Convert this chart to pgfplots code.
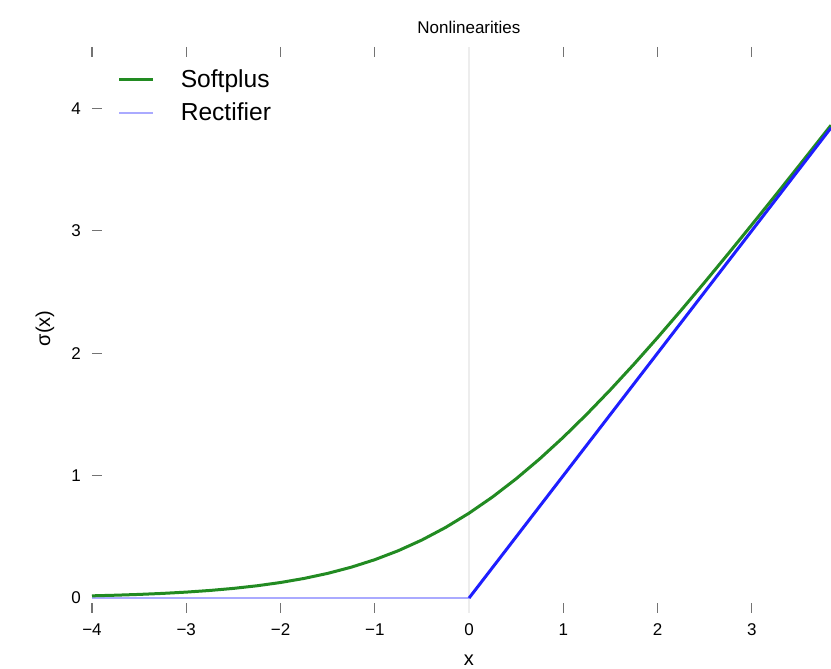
\documentclass[border=0pt]{standalone}
\usepackage{fontspec}
\setmainfont{Liberation Sans}
\usepackage{pgfplots}
\pgfplotsset{compat=1.18}
\definecolor{spgreen}{RGB}{34,139,34}
\definecolor{relublue}{RGB}{30,30,255}
\definecolor{relulight}{RGB}{170,170,255}
\begin{document}
\begin{tikzpicture}
\begin{axis}[name=ax, scale only axis, width=369.5pt, height=283pt,
  xmin=-4, xmax=3.84, ymin=-0.122, ymax=4.5,
  axis line style={draw=none},
  tick align=inside, major tick length=5pt,
  tick style={black!55, line width=0.6pt},
  xtick={-4,-3,-2,-1,1,2,3}, xticklabels={−4,−3,−2,−1,1,2,3},
  xtick pos=both, ytick pos=left,
  ytick={0,1,2,3,4},
  extra x ticks={0}, extra x tick labels={0},
  extra x tick style={major tick length=0pt, grid=major, major grid style={black!7, line width=1pt}},
  /pgf/number format/assume math mode=true,
  ticklabel style={font=\fontsize{8.5}{10}\selectfont},
  xticklabel style={yshift=-2pt},
  yticklabel style={xshift=-2pt},
  xlabel={x}, ylabel={σ(x)},
  label style={font=\fontsize{10}{12}\selectfont},
  xlabel style={at={(axis description cs:0.51,-0.083)}, anchor=center},
  ylabel style={at={(axis description cs:-0.0636,0.503)}, anchor=center},
  title={Nonlinearities},
  title style={at={(axis description cs:0.51,1.035)}, anchor=center, yshift=-6pt, font=\fontsize{8.5}{10}\selectfont},
  legend style={draw=none, fill=none, at={(axis description cs:0.026,0.975)}, anchor=north west,
    font=\fontsize{12.3}{14}\selectfont, row sep=2pt, column sep=11pt},
  legend cell align=left,
]
\addlegendimage{spgreen, line width=1.5pt}
\addlegendentry{Softplus}
\addlegendimage{relulight, line width=1pt}
\addlegendentry{Rectifier}
\addplot[relulight, line width=1pt, forget plot] coordinates {(-4,0) (0,0)};
\addplot[spgreen, line width=1.5pt, forget plot] coordinates {
(-4,0.01815) (-3.75,0.02325) (-3.5,0.02975) (-3.25,0.03804) (-3,0.04859)
(-2.75,0.06197) (-2.5,0.07889) (-2.25,0.10022) (-2,0.12693) (-1.75,0.16021)
(-1.5,0.20141) (-1.25,0.25197) (-1,0.31326) (-0.75,0.38687) (-0.5,0.47408)
(-0.25,0.57593) (0,0.69315) (0.25,0.82593) (0.5,0.97408) (0.75,1.13687)
(1,1.31326) (1.25,1.50197) (1.5,1.70141) (1.75,1.91021) (2,2.12693)
(2.25,2.35022) (2.5,2.57889) (2.75,2.81197) (3,3.04859) (3.25,3.28804)
(3.5,3.52975) (3.75,3.77325) (3.84,3.86124)};
\addplot[relublue, line width=1.5pt, forget plot] coordinates {(0,0) (3.84,3.84)};
\end{axis}
\pgfresetboundingbox
\path ([shift={(-46pt,-28pt)}]ax.south west) rectangle ([shift={(0pt,23.5pt)}]ax.north east);
\end{tikzpicture}
\end{document}
